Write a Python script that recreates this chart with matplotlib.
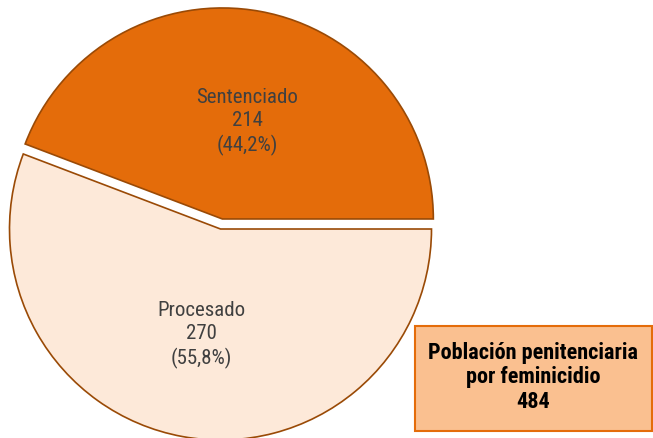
import matplotlib
matplotlib.use("Agg")
import matplotlib.pyplot as plt
import numpy as np

categories = ["Sentenciado", "Procesado"]
values = [214, 270]
percent_labels = ["44,2%", "55,8%"]
total_label = "Población penitenciaria\npor feminicidio\n484"

colors = ["#E46C0A", "#FDE9D9"]
edge_color = "#9A4A06"
font = ["Roboto Condensed", "Liberation Sans", "DejaVu Sans"]

W, H = 653, 438
fig = plt.figure(figsize=(W / 100, H / 100), dpi=100)
ax = fig.add_axes([0, 0, 1, 1])

# pie geometry in pixel units (radius 1 == R px)
R = 211.0
cx, cy = 220.5, 229.0  # pixel position of the centre, y measured from the top
explode = [10.2 / R, 0.0]

wedges, _ = ax.pie(values, colors=colors, startangle=0, counterclock=True,
                   explode=explode, radius=1.0,
                   wedgeprops=dict(edgecolor=edge_color, linewidth=1.2))

ax.set_xlim(-cx / R, (W - cx) / R)
ax.set_ylim(-(H - cy) / R, cy / R)
ax.set_aspect("auto")
ax.axis("off")

# labels inside each wedge, near its mid-angle
label_dist = [0.475, 0.51]
label_turn = [-4.0, 0.0]
total = sum(values)
start = 0.0
for i, (cat, v, pl) in enumerate(zip(categories, values, percent_labels)):
    frac = v / total
    mid_deg = start + frac * 180.0
    start += frac * 360.0
    mid = np.deg2rad(mid_deg)
    ang = np.deg2rad(mid_deg + label_turn[i])
    ox = explode[i] * np.cos(mid)
    oy = explode[i] * np.sin(mid)
    ax.text(ox + label_dist[i] * np.cos(ang), oy + label_dist[i] * np.sin(ang),
            f"{cat}\n{v}\n({pl})", ha="center", va="center",
            fontsize=15, color="#404040", family=font, linespacing=1.3)

# total box
box = plt.Rectangle((415 / W, 1 - 431 / H), 237 / W, 105 / H,
                    transform=fig.transFigure, facecolor="#FAC090",
                    edgecolor="#E46C0A", linewidth=1.5, zorder=0)
fig.patches.append(box)
fig.text(533.5 / W, 1 - 377.5 / H, total_label, ha="center", va="center",
         fontsize=16, fontweight="bold", color="black", family=font,
         linespacing=1.12)

fig.savefig("out.png", dpi=100)
